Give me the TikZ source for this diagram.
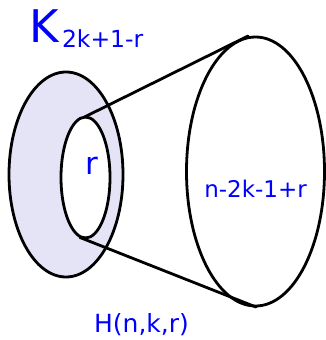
\documentclass[tikz,border=0pt]{standalone}
\usepackage{fontspec}
\setmainfont{DejaVu Sans}
\definecolor{ringfill}{RGB}{228,228,246}
\tikzset{
  edge/.style={line width=2.8pt, line cap=round, line join=round},
  lbl/.style={text=blue, inner sep=0pt, outer sep=0pt}
}
\begin{document}
\begin{tikzpicture}[x=1pt,y=-1pt]
\useasboundingbox (0,0) rectangle (326,340);
% outer ring
\draw[edge, fill=ringfill] (66,174.5) ellipse [x radius=57, y radius=102.5];
\draw[edge, fill=white] (85.5,177.5) ellipse [x radius=24.5, y radius=60.5];
% right ellipse
\draw[edge] (255.5,171.5) ellipse [x radius=69, y radius=134.5];
% named points
\coordinate (it) at (84.5,117);
\coordinate (ib) at (80,237.5);
\coordinate (rt) at (248,36);
\coordinate (rb) at (256,307);
\draw[edge] (it) -- (rt);
\draw[edge] (ib) -- (rb);
% labels
\node[lbl, anchor=base west, font=\fontsize{45}{45}\selectfont] (K) at (29,42) {K};
\node[lbl, anchor=base west, font=\fontsize{23.5}{24}\selectfont] (Ksub) at (62,47) {2k+1-r};
\node[lbl, font=\fontsize{31}{31}\selectfont] (r) at (92,166) {r};
\node[lbl, anchor=base, font=\fontsize{23}{23}\selectfont] (m) at (255.5,197) {n-2k-1+r};
\node[lbl, anchor=base, font=\fontsize{25}{25}\selectfont] (H) at (141.5,332) {H(n,k,r)};
\end{tikzpicture}
\end{document}
